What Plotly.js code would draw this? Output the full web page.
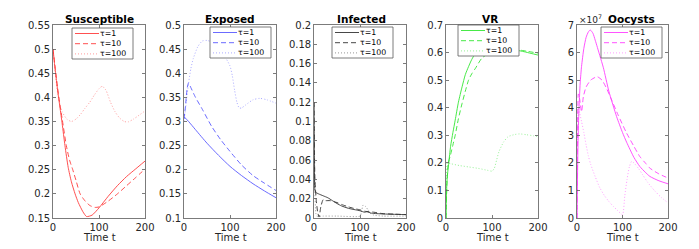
<!DOCTYPE html>
<html>
<head>
<meta charset="utf-8">
<script src="https://cdn.plot.ly/plotly-3.0.1.min.js"></script>
<style>html,body{margin:0;padding:0;background:#fff;}#chart{width:699px;height:249px;}</style>
</head>
<body>
<div id="chart"></div>
<script>
// ---------------- DATA ----------------
const tauNames = ['τ=1', 'τ=10', 'τ=100'];
const panelTitles = ['Susceptible', 'Exposed', 'Infected', 'VR', 'Oocysts'];
const xTicks = [0, 100, 200];

// Susceptible
const susT1 = [0,5,10,15,20,26,33,40,48,55,65,73,85,100,120,140,160,180,200];
const susV1 = [0.5,0.455,0.415,0.38,0.345,0.3,0.255,0.225,0.2,0.182,0.163,0.153,0.156,0.171,0.195,0.217,0.236,0.252,0.268];
const susT10 = [0,5,10,15,20,29,36,43,50,59,70,80,91,100,120,140,160,180,200];
const susV10 = [0.5,0.46,0.42,0.385,0.355,0.3,0.27,0.25,0.228,0.2,0.185,0.176,0.172,0.173,0.185,0.2,0.217,0.234,0.2515];
const susT100 = [0,5,10,15,20,30,40,50,60,70,80,90,100,107,115,125,135,145,155,163,175,190,200];
const susV100 = [0.5,0.45,0.41,0.385,0.37,0.355,0.35,0.355,0.365,0.378,0.39,0.405,0.418,0.423,0.415,0.39,0.37,0.357,0.35,0.349,0.355,0.365,0.372];

// Exposed
const expT1 = [0,10,25,50,75,100,125,150,175,200];
const expV1 = [0.31,0.3,0.283,0.255,0.23,0.207,0.188,0.171,0.156,0.142];
const expT10 = [0,3,7,10,15,25,40,60,80,100,125,150,175,200];
const expV10 = [0.305,0.33,0.37,0.38,0.37,0.35,0.325,0.29,0.262,0.238,0.21,0.188,0.172,0.157];
const expT100 = [0,5,10,15,20,30,40,50,60,70,80,90,100,105,110,115,120,125,135,150,165,180,200];
const expV100 = [0.3,0.34,0.38,0.41,0.43,0.455,0.467,0.468,0.465,0.458,0.447,0.433,0.415,0.395,0.365,0.34,0.328,0.328,0.335,0.345,0.348,0.345,0.338];

// Infected
const infT1 = [0,1,3,10,20,30,40,50,60,75,90,100,110,115,125,150,175,200];
const infV1 = [0.12,0.05,0.027,0.025,0.023,0.021,0.018,0.015,0.0125,0.01,0.0085,0.0075,0.006,0.0065,0.005,0.0042,0.0038,0.0035];
const infT10 = [0,2,5,8,11,15,20,25,35,50,60,75,90,100,110,120,130,150,175,200];
const infV10 = [0.12,0.04,0.018,0.006,0.001,0.012,0.019,0.018,0.018,0.016,0.014,0.0115,0.0095,0.0085,0.007,0.0065,0.006,0.0045,0.004,0.0035];
const infT100 = [0,2,4,6,20,50,100,103,107,112,118,122,130,150,200];
const infV100 = [0.12,0.03,0.005,0.002,0.002,0.002,0.002,0.006,0.0135,0.012,0.008,0.005,0.003,0.002,0.002];

// VR
const vrT1 = [0,1,2,4,6,10,15,20,27,35,42,49,56,64,75,90,110,130,150,170,185,200];
const vrV1 = [0,0.08,0.13,0.17,0.2,0.26,0.31,0.355,0.42,0.476,0.52,0.549,0.575,0.597,0.612,0.618,0.619,0.615,0.61,0.603,0.597,0.591];
const vrT10 = [0,2,5,10,15,20,27,35,42,49,56,64,78,93,110,130,150,175,200];
const vrV10 = [0,0.12,0.2,0.23,0.265,0.3,0.36,0.416,0.46,0.5,0.523,0.543,0.58,0.597,0.61,0.615,0.612,0.605,0.598];
const vrT100 = [0,1,3,10,30,50,70,90,100,105,110,115,125,135,150,160,175,190,200];
const vrV100 = [0,0.12,0.2,0.197,0.19,0.185,0.18,0.173,0.17,0.18,0.21,0.24,0.275,0.295,0.303,0.305,0.302,0.298,0.295];

// Oocysts (in units of 1e7)
const ooT1 = [0,2,4,7,10,15,20,25,29,35,40,50,58,70,87,100,109,125,138,150,160,180,200];
const ooV1 = [0,2.5,3.8,4.9,5.5,6.15,6.55,6.75,6.82,6.7,6.45,5.9,5.45,4.6,3.68,3.1,2.75,2.2,1.87,1.66,1.51,1.35,1.24];
const ooT10 = [0,1,3,6,10,14,20,30,40,45,55,65,73,90,109,125,138,150,160,180,200];
const ooV10 = [0,2.5,4.5,4.3,3.85,4.4,4.75,5.0,5.1,5.12,5.0,4.7,4.4,3.75,3.08,2.6,2.23,2.0,1.81,1.6,1.45];
const ooT100 = [0,1,3,6,10,15,20,25,30,40,50,60,70,80,90,100,105,110,115,120,125,135,145,155,170,185,200];
const ooV100 = [0,2.5,4.0,3.8,3.5,3.1,2.65,2.25,1.95,1.5,1.1,0.82,0.6,0.42,0.26,0.12,0.8,1.4,1.85,2.05,2.0,1.8,1.55,1.3,1.0,0.75,0.55];

// ---------------- STYLE ----------------
const W = 699, H = 249;
const px = x => x / W;
const py = y => 1 - y / H;
const panelX = [[53,145],[184,276],[314,406],[446,538],[577,668]];
const plotTop = 25, plotBottom = 218;
const colors = ['#ff3c3c', '#5a5aff', '#333333', '#33e633', '#ff40ff'];
const dashes = ['solid', '5px,3px', '1px,2px'];
const widths = [0.9, 0.9, 1];
const opac = [1, 1, 0.5];
const yRanges = [[0.15,0.55],[0.1,0.5],[0,0.2],[0,0.7],[0,7]];
const yDticks = [0.05,0.05,0.02,0.1,1];
const legendPos = [[72,28],[210,27],[332,27],[458,25],[601,27]];
const titleCx = [99.5, 230, 361, 490, 631.5];

const series = [
  [[susT1,susV1],[susT10,susV10],[susT100,susV100]],
  [[expT1,expV1],[expT10,expV10],[expT100,expV100]],
  [[infT1,infV1],[infT10,infV10],[infT100,infV100]],
  [[vrT1,vrV1],[vrT10,vrV10],[vrT100,vrV100]],
  [[ooT1,ooV1],[ooT10,ooV10],[ooT100,ooV100]]
];

const FONT = 'DejaVu Sans, Arial, sans-serif';
const axColor = '#5a5a5a';
const traces = [];
const layout = {
  width: W, height: H,
  margin: {l:0, r:0, t:0, b:0},
  paper_bgcolor: '#fff', plot_bgcolor: '#fff',
  showlegend: false,
  shapes: [], annotations: []
};

series.forEach((panel, p) => {
  const sfx = p === 0 ? '' : String(p + 1);
  panel.forEach((s, k) => {
    traces.push({
      x: s[0], y: s[1], type: 'scatter', mode: 'lines',
      xaxis: 'x' + sfx, yaxis: 'y' + sfx, name: tauNames[k],
      opacity: opac[k],
      line: {color: colors[p], width: widths[k], dash: dashes[k], shape: 'spline', smoothing: 0.6},
      hoverinfo: 'skip'
    });
  });
  const common = {
    showline: true, linecolor: axColor, linewidth: 0.8, mirror: 'ticks',
    ticks: 'inside', ticklen: 3, tickwidth: 0.8, tickcolor: axColor,
    showgrid: false, zeroline: false, fixedrange: true,
    tickfont: {family: FONT, size: 10, color: '#262626'}
  };
  layout['xaxis' + sfx] = Object.assign({}, common, {
    domain: [px(panelX[p][0]), px(panelX[p][1])], anchor: 'y' + sfx,
    range: [0, 200], tickmode: 'array', tickvals: xTicks
  });
  layout['yaxis' + sfx] = Object.assign({}, common, {
    domain: [py(plotBottom), py(plotTop)], anchor: 'x' + sfx,
    range: yRanges[p], dtick: yDticks[p], tick0: 0
  });
  // title
  layout.annotations.push({
    xref: 'paper', yref: 'paper', x: px(titleCx[p]), y: py(18.5),
    xanchor: 'center', yanchor: 'middle', showarrow: false,
    text: '<b>' + panelTitles[p] + '</b>', font: {family: FONT, size: 10.5, color: '#000'}
  });
  // x label
  layout.annotations.push({
    xref: 'paper', yref: 'paper', x: px((panelX[p][0] + panelX[p][1]) / 2), y: py(237),
    xanchor: 'center', yanchor: 'middle', showarrow: false,
    text: 'Time t', font: {family: FONT, size: 10, color: '#262626'}
  });
  // legend box
  const [Lx, Ty] = legendPos[p];
  const rowGap = 10.2;
  layout.shapes.push({
    type: 'rect', xref: 'paper', yref: 'paper', layer: 'above',
    x0: px(Lx), x1: px(Lx + 61), y0: py(Ty + 31), y1: py(Ty),
    fillcolor: '#fff', line: {color: axColor, width: 0.8}
  });
  tauNames.forEach((nm, k) => {
    const yy = Ty + 5.5 + rowGap * k;
    layout.shapes.push({
      type: 'line', xref: 'paper', yref: 'paper', layer: 'above',
      x0: px(Lx + 3), x1: px(Lx + 27), y0: py(yy), y1: py(yy),
      opacity: opac[k],
      line: {color: colors[p], width: widths[k], dash: dashes[k]}
    });
  });
  layout.annotations.push({
    xref: 'paper', yref: 'paper', x: px(Lx + 27), y: py(Ty + 15.7),
    xanchor: 'left', yanchor: 'middle', showarrow: false, align: 'left',
    borderpad: 0,
    text: tauNames.join('<br>'), font: {family: FONT, size: 7.8, color: '#000'}
  });
});

// exponent label for Oocysts
layout.annotations.push({
  xref: 'paper', yref: 'paper', x: px(577), y: py(19),
  xanchor: 'left', yanchor: 'middle', showarrow: false,
  text: '×10<sup>7</sup>', font: {family: FONT, size: 9, color: '#262626'}
});

Plotly.newPlot('chart', traces, layout, {staticPlot: true, displayModeBar: false});
</script>
</body>
</html>
